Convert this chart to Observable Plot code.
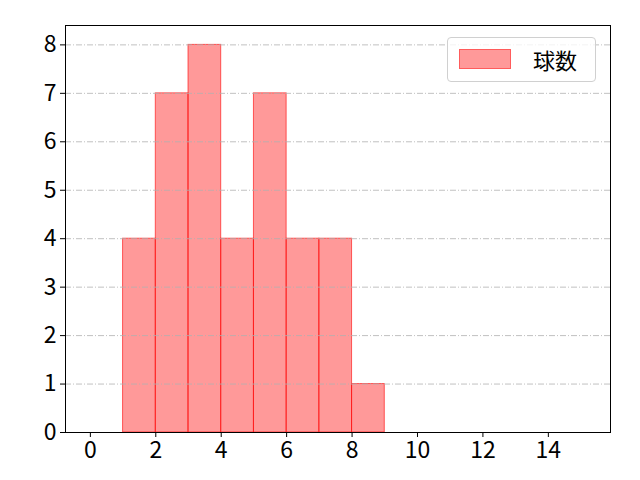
<!DOCTYPE html>
<html>
<head>
<meta charset="utf-8">
<script src="https://cdn.jsdelivr.net/npm/d3@7"></script>
<script src="https://cdn.jsdelivr.net/npm/@observablehq/plot@0.6"></script>
<style>
  body { margin: 0; background: #fff; }
  #wrap { position: relative; width: 640px; height: 480px; font-family: "Noto Sans CJK JP", sans-serif; }
  #wrap svg text { font-size: 23px; font-family: "Noto Sans CJK JP", sans-serif; fill: #000; }
  #legend { position: absolute; left: 447px; top: 37px; width: 149px; height: 45px; border: 1px solid #d0d0d0; border-radius: 4px; background: rgba(255,255,255,0.8); box-sizing: border-box; }
  #legend .sw { position: absolute; left: 11px; top: 11px; width: 52px; height: 20px; background: rgba(255,0,0,0.4); border: 1px solid rgba(255,0,0,0.4); box-sizing: border-box; }
  #legend .lb { position: absolute; left: 85px; top: 2px; font-size: 22px; color: #000; line-height: 38px; }
</style>
</head>
<body>
<div id="wrap"></div>
<script>
const binStart = [1, 2, 3, 4, 5, 6, 7, 8];
const binEnd   = [2, 3, 4, 5, 6, 7, 8, 9];
const counts   = [4, 7, 8, 4, 7, 4, 4, 1];
const xTicks = [0, 2, 4, 6, 8, 10, 12, 14];
const yTicks = [0, 1, 2, 3, 4, 5, 6, 7, 8];
const seriesName = "球数";

const bins = binStart.map((s, i) => ({x1: s, x2: binEnd[i], y: counts[i]}));

const plot = Plot.plot({
  width: 640,
  height: 480,
  marginLeft: 65,
  marginRight: 30,
  marginTop: 25,
  marginBottom: 48,
  style: {fontFamily: "Noto Sans CJK JP, sans-serif", fontSize: "23px", color: "#000", background: "#fff"},
  x: {domain: [-0.76, 15.9], label: null},
  y: {domain: [0, 8.4], label: null},
  marks: [
    Plot.rectY(bins, {x1: "x1", x2: "x2", y: "y", fill: "red", fillOpacity: 0.4, stroke: "red", strokeOpacity: 0.6, strokeWidth: 1, inset: 0}),
    Plot.gridY(yTicks.filter(d => d > 0), {stroke: "#b0b0b0", strokeOpacity: 1, strokeWidth: 0.8, strokeDasharray: "6,2,1,2"}),
    Plot.axisX(xTicks, {tickSize: 5, tickPadding: 4, label: null, tickFormat: d => String(d)}),
    Plot.axisY(yTicks, {tickSize: 5, tickPadding: 4, label: null, tickFormat: d => String(d)}),
    Plot.frame({stroke: "#000", strokeWidth: 1})
  ]
});

const wrap = document.getElementById("wrap");
wrap.appendChild(plot);
const lg = document.createElement("div");
lg.id = "legend";
lg.innerHTML = '<div class="sw"></div><div class="lb"></div>';
lg.querySelector(".lb").textContent = seriesName;
wrap.appendChild(lg);
</script>
</body>
</html>
